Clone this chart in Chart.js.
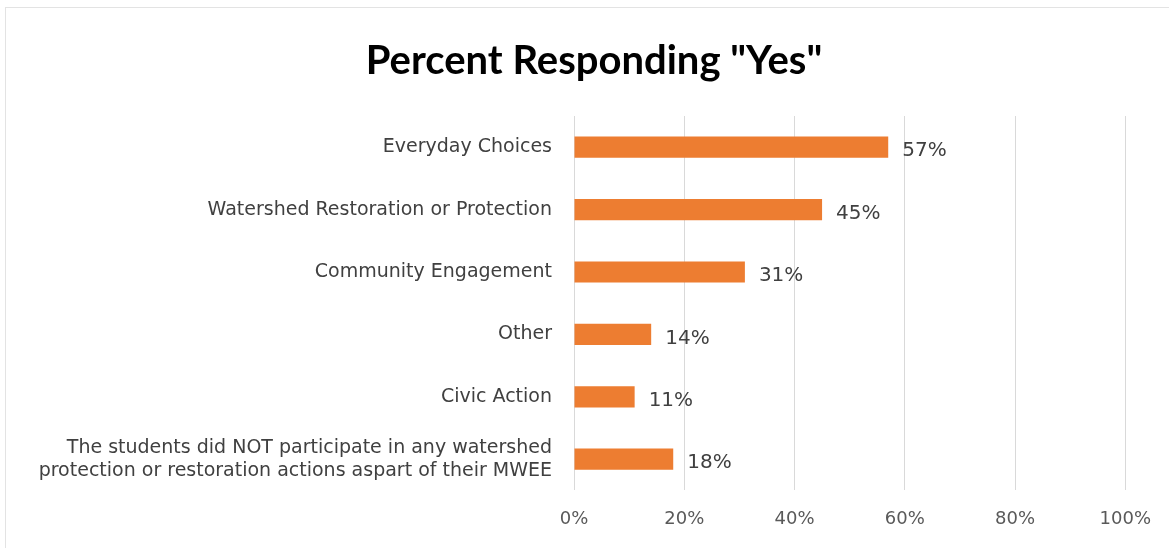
<!DOCTYPE html>
<html>
<head>
<meta charset="utf-8">
<script src="https://cdn.jsdelivr.net/npm/chart.js@4.4.0/dist/chart.umd.min.js"></script>
<style>
  html, body { margin: 0; padding: 0; background: #ffffff; }
  #wrap { width: 1169px; height: 548px; position: relative; }
</style>
</head>
<body>
<div id="wrap"><canvas id="c" width="1169" height="548"></canvas></div>
<script>
const categories = [
  "Everyday Choices",
  "Watershed Restoration or Protection",
  "Community Engagement",
  "Other",
  "Civic Action",
  ["The students did NOT participate in any watershed", "protection or restoration actions aspart of their MWEE"]
];
const yesPercent = [57, 45, 31, 14, 11, 18];
const tickValues = [0, 20, 40, 60, 80, 100];
const chartTitle = 'Percent Responding "Yes"';

const frameBorder = {
  id: 'frameBorder',
  beforeDraw(chart) {
    const ctx = chart.ctx;
    ctx.save();
    ctx.fillStyle = '#ffffff';
    ctx.fillRect(0, 0, chart.width, chart.height);
    ctx.strokeStyle = '#e3e3e3';
    ctx.lineWidth = 1;
    ctx.strokeRect(5.5, 7.5, chart.width + 20, chart.height + 20);
    ctx.restore();
  }
};

const titleShift = {
  id: 'titleShift',
  afterLayout(chart) {
    const tb = chart.titleBlock;
    if (tb) { tb.left = 62; tb.right = 1126; tb.width = tb.right - tb.left; }
  }
};

const valueLabels = {
  id: 'valueLabels',
  afterDatasetsDraw(chart) {
    const ctx = chart.ctx;
    const meta = chart.getDatasetMeta(0);
    ctx.save();
    ctx.font = '20px "DejaVu Sans", sans-serif';
    ctx.fillStyle = '#404040';
    ctx.textAlign = 'left';
    ctx.textBaseline = 'middle';
    meta.data.forEach((bar, i) => {
      ctx.fillText(yesPercent[i] + '%', bar.x + 14, bar.y + 4);
    });
    ctx.restore();
  }
};

new Chart(document.getElementById('c'), {
  type: 'bar',
  data: {
    labels: categories,
    datasets: [{
      data: yesPercent,
      backgroundColor: '#ED7D31',
      borderWidth: 0,
      barPercentage: 0.34,
      categoryPercentage: 1.0
    }]
  },
  plugins: [frameBorder, titleShift, valueLabels],
  options: {
    indexAxis: 'y',
    responsive: false,
    animation: false,
    layout: { padding: { left: 0, right: 43, top: 0, bottom: 0 } },
    plugins: {
      legend: { display: false },
      tooltip: { enabled: false },
      title: {
        display: true,
        text: chartTitle,
        color: '#000000',
        font: { family: 'Lato, "Open Sans", sans-serif', size: 40, weight: 'bold' },
        padding: { top: 37, bottom: 31 }
      }
    },
    scales: {
      x: {
        min: 0,
        max: 100,
        afterBuildTicks(scale) { scale.ticks = tickValues.map(v => ({ value: v })); },
        ticks: {
          callback: v => v + '%',
          color: '#595959',
          font: { family: '"DejaVu Sans", sans-serif', size: 18 },
          padding: 18
        },
        grid: { color: '#d9d9d9', drawTicks: false },
        border: { display: false }
      },
      y: {
        afterFit(scale) {
          scale.width = 574;
          scale.paddingTop = 0;
          scale.paddingBottom = 0;
        },
        ticks: {
          color: '#404040',
          font: { family: '"DejaVu Sans", sans-serif', size: 19 },
          padding: 22
        },
        grid: { display: false, drawTicks: false },
        border: { display: false }
      }
    }
  }
});
</script>
</body>
</html>
